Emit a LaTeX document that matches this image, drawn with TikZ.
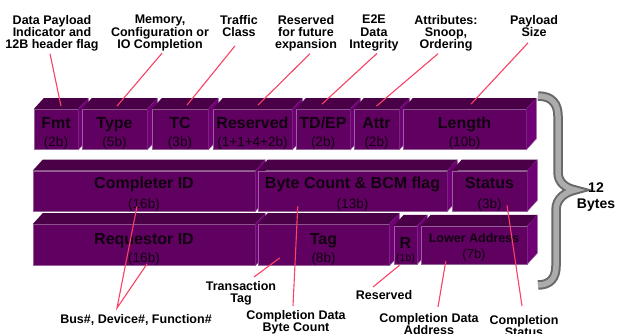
\documentclass[tikz,border=0pt]{standalone}
\usepackage{fontspec}
\setmainfont{Liberation Sans}
\usetikzlibrary{calc}

\definecolor{facefront}{RGB}{96,0,96}
\definecolor{facetop}{RGB}{74,0,70}
\definecolor{faceside}{RGB}{112,0,118}
\definecolor{faceedge}{RGB}{150,96,152}
\definecolor{calloutred}{RGB}{250,66,100}
\definecolor{inktext}{RGB}{16,0,16}
\definecolor{bracedark}{RGB}{105,105,105}
\definecolor{bracelight}{RGB}{172,172,172}

% bit-width line under a field name
\newcommand\fieldbits[2][13.5]{{\mdseries\fontsize{#1}{16}\selectfont #2}}
% invisible lift that pushes a field's text down inside its block
\newcommand\lift[1]{\rule{0pt}{#1}}

% top and right faces of a field block (drawn after its front node)
\newcommand\blockfaces[1]{%
  \fill[facetop] (#1.north west) -- ++(10,-11) -- ($(#1.north east)+(10,-11)$) -- (#1.north east) -- cycle;
  \fill[faceside] (#1.north east) -- ++(10,-11) -- ($(#1.south east)+(10,-11)$) -- (#1.south east) -- cycle;
  \draw[faceedge, line width=0.5] ($(#1.north east)+(10,-11)$) -- ($(#1.south east)+(10,-11)$) -- (#1.south east);
}

\tikzset{
  field/.style={fill=facefront, draw=faceedge, line width=0.5, inner sep=0, align=center,
    text=inktext, font=\bfseries\fontsize{16}{16}\selectfont},
  note/.style={font=\bfseries\fontsize{12.5}{12.3}\selectfont, align=center, inner sep=0, anchor=north},
  callout/.style={draw=calloutred, line width=1.1},
}

\begin{document}
\begin{tikzpicture}[x=1pt, y=-1pt]
\useasboundingbox[fill=white] (0,0) rectangle (617,333);

% ---- first double word: header fields ----
\node[field, minimum width=44, minimum height=39] (fmt) at (56,129.5) {\lift{19pt}Fmt\\[2.5pt]\fieldbits{(2b)}};
\blockfaces{fmt}
\node[field, minimum width=65, minimum height=39] (type) at (114.5,129.5) {\lift{19pt}Type\\[2.5pt]\fieldbits{(5b)}};
\blockfaces{type}
\node[field, minimum width=56, minimum height=39] (tc) at (180,129.5) {\lift{19pt}TC\\[2.5pt]\fieldbits{(3b)}};
\blockfaces{tc}
\node[field, minimum width=79, minimum height=39] (resv) at (252.5,129.5) {\lift{19pt}Reserved\\[2.5pt]\fieldbits{(1+1+4+2b)}};
\blockfaces{resv}
\node[field, minimum width=54, minimum height=39] (tdep) at (323,129.5) {\lift{19pt}TD/EP\\[2.5pt]\fieldbits{(2b)}};
\blockfaces{tdep}
\node[field, minimum width=45, minimum height=39] (attr) at (376.5,129.5) {\lift{19pt}Attr\\[2.5pt]\fieldbits{(2b)}};
\blockfaces{attr}
\node[field, minimum width=123, minimum height=39] (len) at (464.5,129.5) {\lift{19pt}Length\\[2.5pt]\fieldbits{(10b)}};
\blockfaces{len}

% ---- second double word ----
\node[field, minimum width=222, minimum height=38] (cpl) at (144,191) {\lift{18pt}Completer ID\\[3.5pt]\fieldbits{(16b)}};
\blockfaces{cpl}
\node[field, minimum width=189, minimum height=38] (bc) at (352.5,191) {\lift{18pt}Byte Count \& BCM flag\\[3.5pt]\fieldbits{(13b)}};
\blockfaces{bc}
\node[field, minimum width=75, minimum height=38] (st) at (489.5,191) {\lift{18pt}Status\\[3.5pt]\fieldbits{(3b)}};
\blockfaces{st}

% ---- third double word ----
\node[field, minimum width=222, minimum height=38] (req) at (144,245) {\lift{20.5pt}Requestor ID\\[2pt]\fieldbits{(16b)}};
\blockfaces{req}
\node[field, minimum width=131, minimum height=38] (tag) at (323.5,245) {\lift{20.5pt}Tag\\[2pt]\fieldbits{(8b)}};
\blockfaces{tag}
\node[field, minimum width=23, minimum height=38] (r) at (405.5,245) {\lift{21.5pt}R\\[-3pt]\fieldbits[10.5]{(1b)}};
\blockfaces{r}
\node[field, minimum width=106, minimum height=38, font=\bfseries\fontsize{12.5}{16}\selectfont] (la) at (474,245) {\lift{13pt}Lower Address\\\fieldbits[13]{(7b)}};
\blockfaces{la}

% ---- brace spanning the three double words ----
\def\bracepath{(538,96) .. controls (552,96) and (558,104) .. (558,116) -- (558,172)
  .. controls (558,183) and (566,188) .. (575,190)
  .. controls (566,192) and (556,198) .. (556,210) -- (556,266)
  .. controls (556,278) and (550,285) .. (538,285)}
\draw[bracedark, line width=9.5] \bracepath;
\draw[bracelight, line width=5.5] \bracepath;
\node[font=\bfseries\fontsize{14}{16}\selectfont, align=center, inner sep=0, anchor=north] (size) at (596,183) {12\\Bytes};

% ---- labels above ----
\node[note] (lblfmt) at (52,15) {Data Payload\\Indicator and\\12B header flag};
\node[note] (lbltype) at (160,15) {Memory,\\Configuration or\\IO Completion};
\node[note] (lbltc) at (239,15) {Traffic\\Class};
\node[note] (lblresv) at (306,15) {Reserved\\for future\\expansion};
\node[note] (lble2e) at (374,15) {E2E\\Data\\Integrity};
\node[note] (lblattr) at (446,15) {Attributes:\\Snoop,\\Ordering};
\node[note] (lbllen) at (534,15) {Payload\\Size};

% ---- labels below ----
\node[note] (lblbus) at (136,314) {Bus\#, Device\#, Function\#};
\node[note] (lbltt) at (241,281) {Transaction\\Tag};
\node[note] (lblbcnt) at (296,310) {Completion Data\\Byte Count};
\node[note] (lblrsv) at (384,290) {Reserved};
\node[note] (lbladdr) at (429,313) {Completion Data\\Address};
\node[note] (lblstat) at (524,315) {Completion\\Status};

% ---- callout lines ----
\draw[callout] ($(lblfmt.south)+(-2,2)$) -- ($(fmt.north)+(5,-3)$);
\draw[callout] ($(lbltype.south)+(2,2)$) -- ($(type.north)+(2.5,-3)$);
\draw[callout] ($(lbltc.south)+(-4,9)$) -- ($(tc.north)+(7,-4)$);
\draw[callout] ($(lblresv.south)+(4,2)$) -- ($(resv.north)+(5.5,-4)$);
\draw[callout] ($(lble2e.south)+(3,2)$) -- ($(tdep.north)+(-1,-5)$);
\draw[callout] ($(lblattr.south)+(-8,2)$) -- ($(attr.north)+(0,-3)$);
\draw[callout] ($(lbllen.south)+(-6,6)$) -- ($(len.north)+(6.5,-5)$);

\draw[callout] ($(cpl.south)+(-7,-5)$) -- ($(lblbus.north)+(-19,-6)$) -- ($(req.south)+(3,-2)$);
\draw[callout] ($(lbltt.north)+(13,-4)$) -- ($(tag.south west)+(22,-8)$);
\draw[callout] ($(lblbcnt.north)+(-3,-4)$) -- ($(bc.south west)+(40,-5)$);
\draw[callout] ($(lblrsv.north)+(-11,-3)$) -- ($(r.south)+(-6,1)$);
\draw[callout] ($(lbladdr.north)+(9,-6)$) -- ($(la.south west)+(25,-3)$);
\draw[callout] ($(lblstat.north)+(-2,-9)$) -- ($(st.south)+(17.5,-6)$);
\end{tikzpicture}
\end{document}
